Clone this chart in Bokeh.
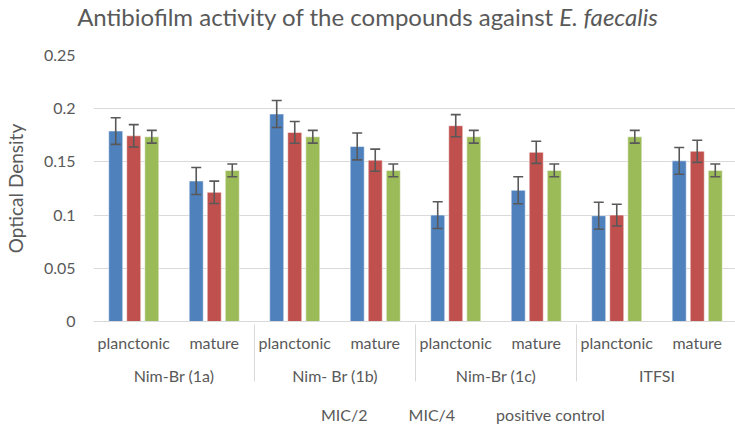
from bokeh.plotting import figure
from bokeh.models import (FactorRange, ColumnDataSource, Whisker, TeeHead, Legend, LegendItem,
                          FixedTicker, CustomJSTickFormatter, Div, Range1d)
from bokeh.layouts import column
from bokeh.transform import dodge
from bokeh.embed import file_html
from bokeh.resources import INLINE

groups = ["Nim-Br (1a)", "Nim- Br (1b)", "Nim-Br (1c)", "ITFSI"]
subs = ["planctonic", "mature"]
series = ["MIC/2", "MIC/4", "positive control"]
mic2 = [0.179, 0.132, 0.195, 0.1645, 0.100, 0.1233, 0.0994, 0.151]
mic4 = [0.1745, 0.1214, 0.1777, 0.1516, 0.184, 0.159, 0.100, 0.160]
posc = [0.1736, 0.142, 0.1736, 0.142, 0.1736, 0.142, 0.1736, 0.142]
err_mic2 = [0.0125, 0.0127, 0.0127, 0.0126, 0.0126, 0.0127, 0.0127, 0.0126]
err_mic4 = [0.0105, 0.0105, 0.0102, 0.0104, 0.0104, 0.0104, 0.0102, 0.0104]
err_posc = [0.006, 0.006, 0.006, 0.006, 0.006, 0.006, 0.006, 0.006]
y_ticks = [0, 0.05, 0.1, 0.15, 0.2, 0.25]
title_main = "Antibiofilm activity of the compounds against"
title_species = "E. faecalis"

colors = ["#4F81BD", "#C0504D", "#9BBB59"]
FONT = "Lato"
TXT = "#595959"
GRID = "#D9D9D9"

factors = [(g, s) for g in groups for s in subs]

p = figure(x_range=FactorRange(*factors, factor_padding=0, group_padding=0, range_padding=0),
           y_range=(0, 0.25), frame_width=644, frame_height=266,
           output_backend="svg", toolbar_location=None,
           min_border_left=89, min_border_right=2, min_border_top=15, min_border_bottom=0)
p.outline_line_color = None
p.background_fill_color = "white"

offsets = [-0.224, 0.0, 0.224]
vals = [mic2, mic4, posc]
errs = [err_mic2, err_mic4, err_posc]
for name, c, off, v, e in zip(series, colors, offsets, vals, errs):
    src = ColumnDataSource(dict(x=factors, top=v,
                                upper=[a + b for a, b in zip(v, e)],
                                lower=[a - b for a, b in zip(v, e)]))
    p.vbar(x=dodge("x", off, range=p.x_range), top="top", width=0.174, source=src,
           fill_color=c, line_color="white", line_alpha=0.5, line_width=1)
    w = Whisker(base=dodge("x", off, range=p.x_range), upper="upper", lower="lower", source=src,
                level="annotation", line_color="#595959", line_width=1.6,
                upper_head=TeeHead(size=10, line_color="#595959", line_width=1.6),
                lower_head=TeeHead(size=10, line_color="#595959", line_width=1.6))
    p.add_layout(w)

# y axis
p.yaxis.ticker = FixedTicker(ticks=y_ticks)
p.yaxis.formatter = CustomJSTickFormatter(code="return Number(tick.toFixed(2)).toString()")
p.yaxis.axis_line_color = None
p.yaxis.major_tick_line_color = None
p.yaxis.minor_tick_line_color = None
p.yaxis.major_tick_out = 0
p.yaxis.major_label_standoff = 18
p.yaxis.major_label_text_font = FONT
p.yaxis.major_label_text_font_size = "16px"
p.yaxis.major_label_text_color = TXT
p.yaxis.axis_label = "Optical Density"
p.yaxis.axis_label_text_font = FONT
p.yaxis.axis_label_text_font_size = "19px"
p.yaxis.axis_label_text_font_style = "normal"
p.yaxis.axis_label_text_color = TXT
p.yaxis.axis_label_standoff = 14
p.ygrid.grid_line_color = GRID
p.ygrid.ticker = FixedTicker(ticks=y_ticks)
p.xgrid.grid_line_color = None

# x axis (nested categorical) with its own group separators
xa = p.xaxis[0]
xa.axis_line_color = GRID
xa.major_tick_line_color = None
xa.minor_tick_line_color = None
xa.major_tick_out = 0
xa.major_label_standoff = 11
xa.major_label_text_font = FONT
xa.major_label_text_font_size = "16px"
xa.major_label_text_color = TXT
xa.group_text_font = FONT
xa.group_text_font_size = "16px"
xa.group_text_color = TXT
xa.group_text_font_style = "normal"
xa.separator_line_color = GRID
xa.separator_line_width = 1

# legend strip: a small companion figure holding only the legend swatches
lg = figure(width=735, height=41, x_range=Range1d(0, 1), y_range=Range1d(0, 1),
            x_axis_type=None, y_axis_type=None, output_backend="svg", toolbar_location=None,
            min_border_left=0, min_border_right=0, min_border_top=0, min_border_bottom=0)
lg.outline_line_color = None
lg.xgrid.grid_line_color = None
lg.ygrid.grid_line_color = None
items = []
for name, c in zip(series, colors):
    r = lg.vbar(x=[], top=[], width=0.1, fill_color=c, line_color=None)
    items.append(LegendItem(label=name, renderers=[r]))
legend = Legend(items=items, orientation="horizontal", location=(213, 4),
                label_text_font=FONT, label_text_font_size="16px", label_text_color=TXT,
                glyph_width=10, glyph_height=10, label_standoff=5, spacing=26,
                border_line_color=None, background_fill_alpha=0, padding=2, margin=0)
lg.add_layout(legend)

title = Div(text=title_main + " <i>" + title_species + "</i>", width=735, height=40, margin=0,
            styles={"font-family": "Lato", "font-size": "24px", "color": TXT,
                    "text-align": "center", "line-height": "34px"})

layout = column(title, p, lg, spacing=0)
open("out.html", "w").write(file_html(layout, INLINE))
